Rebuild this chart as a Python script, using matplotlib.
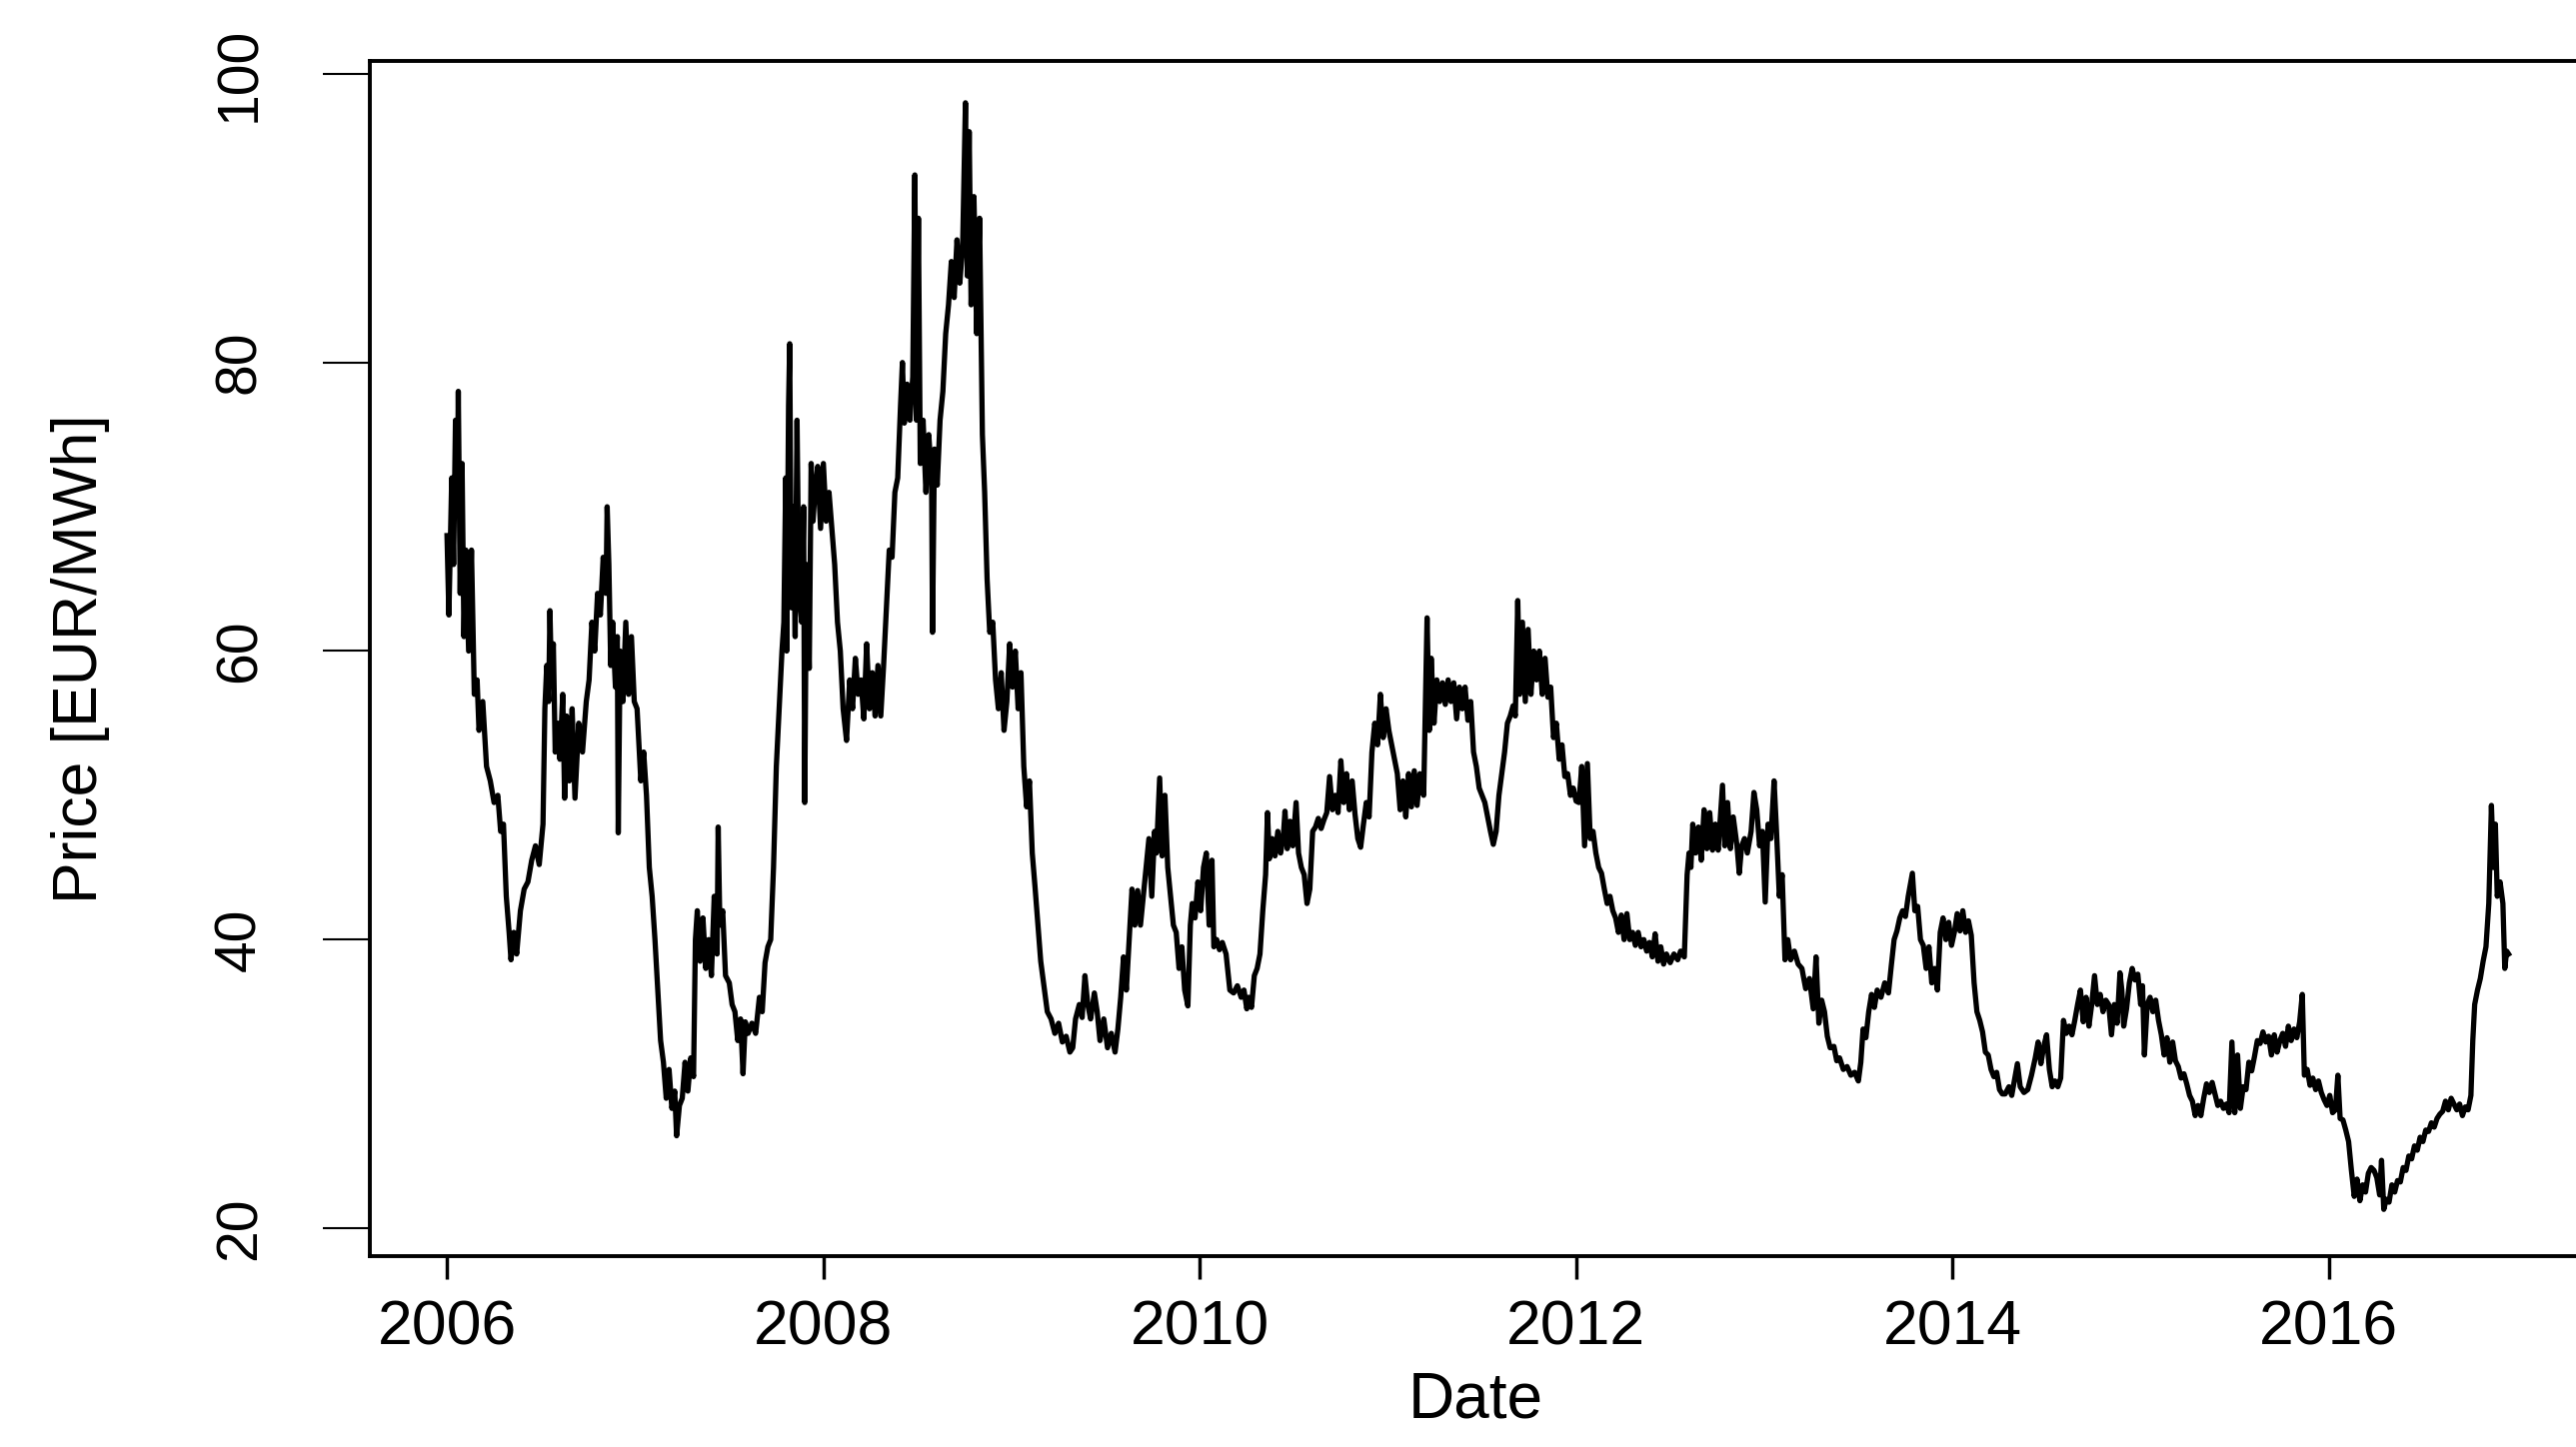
import matplotlib
matplotlib.use("Agg")
import matplotlib.pyplot as plt

plt.rcParams['font.family'] = ['Liberation Sans', 'DejaVu Sans']

# price series, (decimal year, EUR/MWh), one list per year
p2006 = [(2006.000,68.0),(2006.010,62.5),(2006.025,72.0),(2006.035,66.0),(2006.045,76.0),(2006.055,70.0),
         (2006.060,78.0),(2006.070,64.0),(2006.080,73.0),(2006.090,61.0),(2006.100,67.0),(2006.115,60.0),
         (2006.130,67.0),(2006.145,57.0),(2006.160,58.0),(2006.170,54.5),(2006.190,56.5),(2006.210,52.0),
         (2006.230,51.0),(2006.250,49.5),(2006.270,50.0),(2006.285,47.5),(2006.300,48.0),(2006.315,43.0),
         (2006.330,40.5),(2006.340,38.6),(2006.355,40.5),(2006.370,39.0),(2006.390,42.0),(2006.410,43.5),
         (2006.430,44.0),(2006.450,45.5),(2006.470,46.5),(2006.490,45.2),(2006.510,48.0),(2006.520,56.0),
         (2006.530,59.0),(2006.540,56.5),(2006.547,62.8),(2006.555,58.0),(2006.565,60.5),(2006.575,53.0),
         (2006.590,55.0),(2006.600,52.5),(2006.615,57.0),(2006.625,49.8),(2006.635,55.5),(2006.650,51.0),
         (2006.665,56.0),(2006.680,49.8),(2006.700,55.0),(2006.720,53.0),(2006.740,56.5),(2006.755,58.0),
         (2006.770,62.0),(2006.785,60.0),(2006.800,64.0),(2006.815,62.5),(2006.830,66.5),(2006.845,64.0),
         (2006.851,70.0),(2006.860,66.0),(2006.870,59.0),(2006.880,62.0),(2006.895,57.5),(2006.905,61.0),
         (2006.910,47.4),(2006.920,60.0),(2006.935,56.5),(2006.950,62.0),(2006.965,57.0),(2006.980,61.0),
         (2006.995,56.5)]
p2007 = [(2007.010,56.0),(2007.030,51.0),(2007.045,53.0),(2007.060,50.0),(2007.075,45.0),(2007.090,43.0),
         (2007.105,40.0),(2007.120,36.5),(2007.135,33.0),(2007.150,31.5),(2007.165,29.0),(2007.180,31.0),
         (2007.195,28.3),(2007.210,29.5),(2007.220,26.4),(2007.235,28.5),(2007.250,29.0),(2007.265,31.5),
         (2007.280,29.5),(2007.295,31.8),(2007.310,30.5),(2007.320,40.0),(2007.330,42.0),(2007.345,38.5),
         (2007.360,41.5),(2007.375,38.0),(2007.390,40.0),(2007.405,37.5),(2007.420,43.0),(2007.435,39.0),
         (2007.441,47.8),(2007.450,41.0),(2007.465,42.0),(2007.480,37.5),(2007.500,37.0),(2007.515,35.5),
         (2007.530,35.0),(2007.545,33.0),(2007.560,34.5),(2007.573,30.7),(2007.585,34.3),(2007.600,33.5),
         (2007.620,34.2),(2007.640,33.5),(2007.660,36.0),(2007.675,35.0),(2007.690,38.4),(2007.705,39.5),
         (2007.720,40.0),(2007.735,45.0),(2007.750,52.0),(2007.765,56.0),(2007.780,60.0),(2007.790,62.0),
         (2007.800,72.0),(2007.805,60.0),(2007.815,77.0),(2007.821,81.3),(2007.830,63.0),(2007.840,70.0),
         (2007.850,61.0),(2007.860,76.0),(2007.870,64.0),(2007.885,62.0),(2007.895,70.0),(2007.901,49.5),
         (2007.910,66.0),(2007.925,58.8),(2007.935,73.0),(2007.945,69.0),(2007.955,71.0),(2007.970,72.8),
         (2007.985,68.5)]
p2008 = [(2008.000,73.0),(2008.015,69.0),(2008.030,71.0),(2008.045,68.5),(2008.060,66.0),(2008.075,62.0),
         (2008.090,60.0),(2008.105,56.0),(2008.123,53.8),(2008.140,58.0),(2008.155,56.0),(2008.170,59.5),
         (2008.185,57.0),(2008.200,58.0),(2008.215,55.3),(2008.230,60.5),(2008.245,56.0),(2008.260,58.5),
         (2008.275,55.5),(2008.290,59.0),(2008.305,55.5),(2008.320,59.0),(2008.335,63.0),(2008.350,67.0),
         (2008.365,66.5),(2008.380,71.0),(2008.395,72.0),(2008.410,77.0),(2008.420,80.0),(2008.430,75.8),
         (2008.445,78.5),(2008.460,76.0),(2008.475,79.0),(2008.486,93.0),(2008.495,76.0),(2008.505,90.0),
         (2008.515,73.0),(2008.530,76.0),(2008.545,71.0),(2008.560,75.0),(2008.575,72.0),(2008.580,61.3),
         (2008.590,74.0),(2008.605,71.5),(2008.620,76.0),(2008.635,78.0),(2008.650,82.0),(2008.665,84.0),
         (2008.680,87.0),(2008.695,84.5),(2008.710,88.5),(2008.725,85.5),(2008.740,88.0),(2008.755,98.0),
         (2008.765,86.0),(2008.775,96.0),(2008.785,84.0),(2008.800,91.5),(2008.815,82.0),(2008.830,90.0),
         (2008.845,75.0),(2008.857,71.0),(2008.870,65.0),(2008.884,61.3),(2008.900,62.0),(2008.915,58.0),
         (2008.930,56.0),(2008.945,58.5),(2008.960,54.5),(2008.975,56.5),(2008.990,60.5)]
p2009 = [(2009.005,57.5),(2009.020,60.0),(2009.035,56.0),(2009.050,58.5),(2009.065,52.0),(2009.080,49.2),
         (2009.095,51.0),(2009.110,46.0),(2009.125,43.6),(2009.140,41.0),(2009.155,38.5),(2009.170,37.0),
         (2009.190,35.0),(2009.210,34.5),(2009.230,33.5),(2009.250,34.2),(2009.270,32.9),(2009.290,33.3),
         (2009.310,32.2),(2009.325,32.5),(2009.340,34.5),(2009.360,35.5),(2009.375,34.6),(2009.390,37.5),
         (2009.405,35.5),(2009.420,34.5),(2009.440,36.3),(2009.455,35.0),(2009.470,33.0),(2009.490,34.5),
         (2009.510,32.5),(2009.530,33.5),(2009.550,32.2),(2009.565,33.8),(2009.580,36.0),(2009.595,38.8),
         (2009.610,36.5),(2009.625,40.0),(2009.640,43.5),(2009.655,41.0),(2009.670,43.4),(2009.685,41.0),
         (2009.700,43.0),(2009.715,45.0),(2009.730,47.0),(2009.745,43.0),(2009.760,47.5),(2009.770,46.0),
         (2009.787,51.2),(2009.800,45.8),(2009.815,50.0),(2009.830,45.0),(2009.845,43.0),(2009.860,41.0),
         (2009.875,40.5),(2009.890,38.0),(2009.905,39.5),(2009.920,36.5),(2009.937,35.4),(2009.950,41.0),
         (2009.960,42.5),(2009.975,41.5),(2009.990,44.0)]
p2010 = [(2010.005,42.0),(2010.020,45.0),(2010.035,46.0),(2010.050,41.0),(2010.065,45.5),(2010.075,39.5),
         (2010.090,40.0),(2010.105,39.3),(2010.120,39.8),(2010.140,39.0),(2010.160,36.5),(2010.180,36.3),
         (2010.200,36.8),(2010.220,36.0),(2010.235,36.5),(2010.250,35.2),(2010.260,36.0),(2010.275,35.3),
         (2010.290,37.5),(2010.305,38.0),(2010.320,39.0),(2010.335,42.0),(2010.350,44.5),(2010.360,48.8),
         (2010.370,45.6),(2010.385,47.0),(2010.400,45.8),(2010.415,47.5),(2010.430,46.0),(2010.445,47.3),
         (2010.453,48.9),(2010.465,46.3),(2010.480,48.2),(2010.495,46.5),(2010.512,49.5),(2010.525,46.0),
         (2010.540,45.0),(2010.555,44.5),(2010.570,42.5),(2010.585,43.5),(2010.600,47.5),(2010.615,47.8),
         (2010.630,48.4),(2010.645,47.7),(2010.660,48.3),(2010.675,48.8),(2010.690,51.3),(2010.705,49.0),
         (2010.720,50.0),(2010.735,48.8),(2010.750,52.4),(2010.765,49.5),(2010.780,51.5),(2010.795,49.0),
         (2010.810,51.0),(2010.825,48.7),(2010.840,47.0),(2010.855,46.4),(2010.870,48.0),(2010.885,49.5),
         (2010.900,48.5),(2010.915,53.0),(2010.930,55.0),(2010.945,53.5),(2010.960,57.0),(2010.975,54.0),
         (2010.990,56.0)]
p2011 = [(2011.005,54.5),(2011.020,53.5),(2011.035,52.5),(2011.050,51.5),(2011.065,49.0),(2011.080,51.0),
         (2011.095,48.5),(2011.110,51.5),(2011.125,49.2),(2011.140,51.7),(2011.155,49.3),(2011.170,51.5),
         (2011.190,50.0),(2011.208,62.3),(2011.220,54.5),(2011.230,59.5),(2011.245,55.0),(2011.260,58.0),
         (2011.275,56.5),(2011.290,57.8),(2011.305,56.3),(2011.320,58.0),(2011.335,56.5),(2011.350,57.8),
         (2011.365,55.3),(2011.380,57.5),(2011.395,56.0),(2011.410,57.5),(2011.425,55.2),(2011.440,56.5),
         (2011.455,53.0),(2011.470,52.0),(2011.485,50.5),(2011.500,50.0),(2011.515,49.5),(2011.530,48.5),
         (2011.545,47.5),(2011.560,46.6),(2011.575,47.5),(2011.590,50.0),(2011.605,51.5),(2011.620,53.0),
         (2011.635,55.0),(2011.650,55.5),(2011.665,56.2),(2011.677,55.5),(2011.690,63.5),(2011.700,57.0),
         (2011.715,62.0),(2011.730,56.5),(2011.745,61.5),(2011.760,57.0),(2011.775,60.0),(2011.790,58.0),
         (2011.805,60.0),(2011.820,57.0),(2011.835,59.5),(2011.850,56.8),(2011.865,57.5),(2011.880,54.0),
         (2011.895,55.0),(2011.910,52.5),(2011.925,53.5),(2011.940,51.3),(2011.955,51.5),(2011.970,50.0),
         (2011.985,50.5)]
p2012 = [(2012.000,49.6),(2012.015,49.5),(2012.030,52.0),(2012.045,46.5),(2012.060,52.2),(2012.075,47.0),
         (2012.090,47.5),(2012.105,46.0),(2012.120,45.0),(2012.135,44.6),(2012.150,43.5),(2012.165,42.5),
         (2012.180,43.0),(2012.195,42.0),(2012.210,41.5),(2012.225,40.5),(2012.240,41.7),(2012.255,40.0),
         (2012.270,41.8),(2012.285,40.0),(2012.300,40.5),(2012.315,39.6),(2012.330,40.5),(2012.345,39.5),
         (2012.360,40.0),(2012.375,39.2),(2012.390,39.8),(2012.405,38.8),(2012.420,40.4),(2012.435,38.5),
         (2012.450,39.5),(2012.465,38.3),(2012.480,39.0),(2012.500,38.4),(2012.520,39.0),(2012.540,38.6),
         (2012.555,39.2),(2012.575,38.8),(2012.590,44.5),(2012.600,46.0),(2012.610,45.0),(2012.620,48.0),
         (2012.635,46.0),(2012.650,47.8),(2012.665,45.5),(2012.680,49.0),(2012.695,46.3),(2012.710,48.8),
         (2012.725,46.2),(2012.740,48.0),(2012.755,46.2),(2012.778,50.7),(2012.790,46.5),(2012.805,49.5),
         (2012.820,46.3),(2012.835,48.5),(2012.855,46.5),(2012.867,44.6),(2012.880,46.5),(2012.895,47.0),
         (2012.910,46.0),(2012.930,47.5),(2012.945,50.2),(2012.960,49.0),(2012.975,46.5),(2012.990,47.5)]
p2013 = [(2013.005,42.6),(2013.020,48.0),(2013.035,47.0),(2013.052,51.0),(2013.065,47.5),(2013.080,43.0),
         (2013.095,44.5),(2013.110,38.6),(2013.125,40.0),(2013.140,38.6),(2013.160,39.2),(2013.180,38.3),
         (2013.200,38.0),(2013.220,36.6),(2013.240,37.3),(2013.260,35.2),(2013.275,38.8),(2013.290,34.2),
         (2013.305,35.8),(2013.320,35.0),(2013.335,33.3),(2013.350,32.5),(2013.370,32.6),(2013.385,31.6),
         (2013.400,31.8),(2013.420,31.0),(2013.440,31.2),(2013.460,30.6),(2013.480,30.8),(2013.500,30.2),
         (2013.513,31.5),(2013.525,33.8),(2013.540,33.2),(2013.555,35.0),(2013.570,36.2),(2013.585,35.3),
         (2013.600,36.5),(2013.620,36.0),(2013.640,37.0),(2013.660,36.3),(2013.675,38.2),(2013.690,40.0),
         (2013.705,40.6),(2013.720,41.5),(2013.735,42.0),(2013.750,41.6),(2013.765,43.0),(2013.787,44.6),
         (2013.800,42.0),(2013.815,42.3),(2013.830,40.0),(2013.845,39.6),(2013.860,38.0),(2013.875,39.5),
         (2013.890,37.0),(2013.905,38.0),(2013.920,36.5),(2013.935,40.5),(2013.950,41.5),(2013.965,40.0),
         (2013.980,41.2),(2013.995,39.6)]
p2014 = [(2014.010,40.5),(2014.025,41.8),(2014.040,40.6),(2014.055,42.0),(2014.070,40.5),(2014.085,41.3),
         (2014.100,40.3),(2014.115,37.0),(2014.130,35.0),(2014.145,34.4),(2014.160,33.6),(2014.175,32.2),
         (2014.190,32.0),(2014.205,31.0),(2014.220,30.5),(2014.235,30.8),(2014.250,29.6),(2014.265,29.3),
         (2014.280,29.3),(2014.300,29.8),(2014.315,29.2),(2014.330,30.3),(2014.345,31.4),(2014.360,29.8),
         (2014.380,29.4),(2014.400,29.6),(2014.420,30.6),(2014.440,31.8),(2014.455,32.9),(2014.470,31.4),
         (2014.485,32.6),(2014.500,33.4),(2014.515,31.0),(2014.530,29.8),(2014.545,30.2),(2014.560,29.8),
         (2014.575,30.4),(2014.590,34.4),(2014.605,33.5),(2014.620,34.0),(2014.635,33.4),(2014.650,34.4),
         (2014.665,35.5),(2014.680,36.5),(2014.695,34.3),(2014.710,36.0),(2014.725,34.0),(2014.740,35.5),
         (2014.755,37.5),(2014.770,35.5),(2014.785,36.2),(2014.800,35.0),(2014.815,35.8),(2014.830,35.5),
         (2014.845,33.4),(2014.860,35.5),(2014.875,34.2),(2014.890,37.7),(2014.900,36.5),(2014.910,34.0),
         (2014.925,35.2),(2014.940,37.0),(2014.955,38.0),(2014.970,37.2),(2014.985,37.6)]
p2015 = [(2015.000,35.5),(2015.010,36.8),(2015.020,32.0),(2015.035,35.5),(2015.050,36.0),(2015.065,35.0),
         (2015.080,35.8),(2015.095,34.4),(2015.110,33.4),(2015.125,32.0),(2015.140,33.2),(2015.155,31.5),
         (2015.170,32.9),(2015.185,31.6),(2015.200,31.2),(2015.215,30.4),(2015.230,30.7),(2015.245,30.0),
         (2015.260,29.2),(2015.275,28.8),(2015.290,27.8),(2015.305,28.5),(2015.320,27.8),(2015.335,29.0),
         (2015.350,30.0),(2015.365,29.4),(2015.380,30.1),(2015.395,29.3),(2015.410,28.5),(2015.425,28.8),
         (2015.440,28.3),(2015.455,28.6),(2015.470,28.0),(2015.485,32.9),(2015.500,28.0),(2015.515,32.0),
         (2015.530,28.3),(2015.545,29.8),(2015.560,29.6),(2015.575,31.5),(2015.590,30.9),(2015.605,31.9),
         (2015.620,33.0),(2015.635,32.8),(2015.650,33.6),(2015.665,32.9),(2015.680,33.3),(2015.695,32.0),
         (2015.710,33.4),(2015.725,32.2),(2015.740,33.0),(2015.755,33.5),(2015.770,32.6),(2015.785,34.0),
         (2015.800,33.0),(2015.815,33.8),(2015.830,33.2),(2015.845,34.3),(2015.859,36.2),(2015.870,30.6),
         (2015.885,31.0),(2015.900,29.9),(2015.915,30.4),(2015.930,29.6),(2015.945,30.2),(2015.960,29.4),
         (2015.975,28.9),(2015.990,28.5)]
p2016 = [(2016.005,29.2),(2016.020,28.0),(2016.035,28.2),(2016.048,30.6),(2016.060,27.6),(2016.075,27.5),
         (2016.090,26.8),(2016.105,26.0),(2016.120,24.0),(2016.135,22.2),(2016.150,23.4),(2016.165,21.9),
         (2016.180,23.0),(2016.195,22.5),(2016.210,23.8),(2016.225,24.2),(2016.240,24.0),(2016.255,23.5),
         (2016.270,22.3),(2016.280,24.7),(2016.292,21.3),(2016.305,22.0),(2016.320,21.8),(2016.335,23.0),
         (2016.350,22.5),(2016.365,23.3),(2016.380,23.2),(2016.395,24.2),(2016.410,24.0),(2016.425,25.0),
         (2016.440,24.8),(2016.455,25.7),(2016.470,25.4),(2016.485,26.3),(2016.500,26.0),(2016.515,26.8),
         (2016.530,26.7),(2016.545,27.3),(2016.560,27.0),(2016.575,27.6),(2016.590,27.9),(2016.605,28.1),
         (2016.620,28.8),(2016.635,28.2),(2016.650,29.0),(2016.665,28.6),(2016.680,28.2),(2016.695,28.6),
         (2016.710,27.8),(2016.725,28.4),(2016.740,28.2),(2016.755,29.2),(2016.765,33.0),(2016.775,35.5),
         (2016.790,36.5),(2016.805,37.3),(2016.820,38.5),(2016.835,39.5),(2016.850,42.5),(2016.864,49.3),
         (2016.875,45.0),(2016.885,48.0),(2016.895,43.0),(2016.910,44.0),(2016.925,42.5),(2016.935,38.0),
         (2016.945,39.2),(2016.955,39.0)]

x_ticks = [2006, 2008, 2010, 2012, 2014, 2016]
y_ticks = [20, 40, 60, 80, 100]

series = p2006 + p2007 + p2008 + p2009 + p2010 + p2011 + p2012 + p2013 + p2014 + p2015 + p2016
dates = [d for d, _ in series]
prices = [p for _, p in series]

W, H = 2577, 1448
fig = plt.figure(figsize=(W / 100, H / 100), dpi=100)
# box runs past the right edge of the picture, like the cropped original
ax = fig.add_axes([370 / W, 191 / H, (2582 - 370) / W, 1196 / H])

ax.plot(dates, prices, color='black', lw=3.8)

ax.set_xlim(2005.59, 2017.34)
ax.set_ylim(18.06, 100.9)

ax.set_xticks(x_ticks)
ax.set_xticklabels([str(t) for t in x_ticks])
ax.set_yticks(y_ticks)
ax.set_yticklabels([str(t) for t in y_ticks], rotation=90, va='center')

ax.tick_params(axis='x', length=16.5, width=2.5, pad=14, labelsize=45)
ax.tick_params(axis='y', length=34, width=1.5, pad=40, labelsize=41)

for s in ax.spines.values():
    s.set_linewidth(2.8)
ax.spines['right'].set_visible(False)

ax.set_ylabel('Price [EUR/MWh]', fontsize=45)
ax.yaxis.set_label_coords(-0.1176, 0.5)
ax.set_xlabel('Date', fontsize=46)
ax.xaxis.set_label_coords(0.5, -0.0955)

fig.savefig('out.png', dpi=100)
